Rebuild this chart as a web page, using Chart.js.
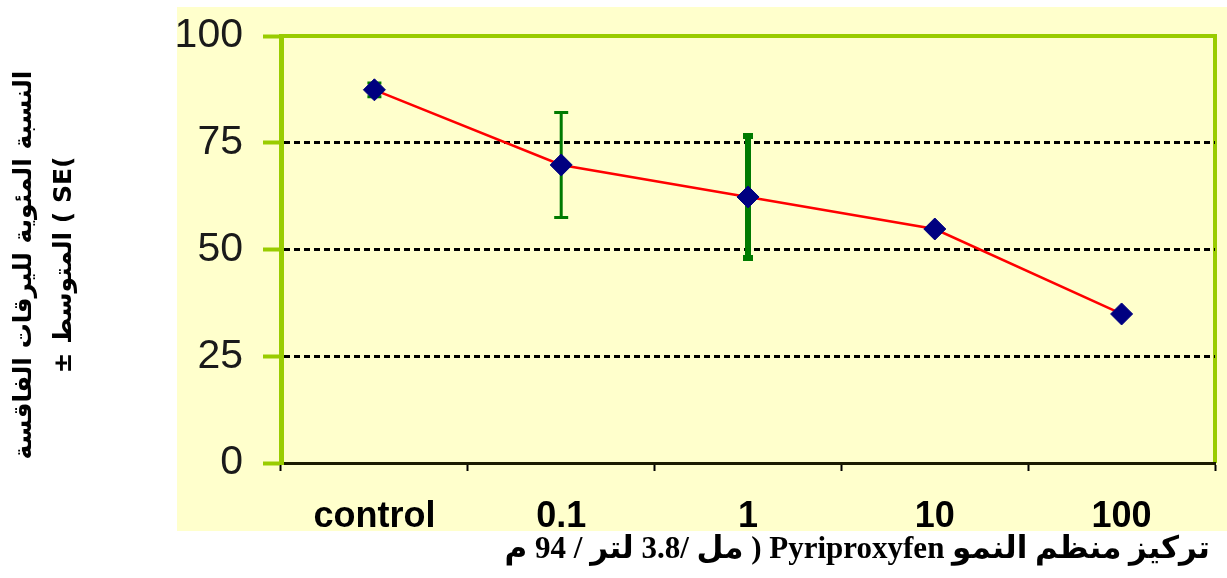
<!DOCTYPE html>
<html>
<head>
<meta charset="utf-8">
<script src="https://cdn.jsdelivr.net/npm/chart.js@4/dist/chart.umd.min.js"></script>
<style>
  html, body { margin: 0; padding: 0; background: #fff; }
  #wrap { width: 1227px; height: 578px; }
</style>
</head>
<body>
<div id="wrap"><canvas id="hatchChart" width="1227" height="578"></canvas></div>
<script>
// data
const categories = ['control', '0.1', '1', '10', '100'];
const hatchMeans = [87.4, 69.8, 62.3, 54.8, 34.9];
const hatchSE = [1.6, 12.3, 14.3, 0, 0];
const seWidths = [3, 3, 6, 3, 3];
const yTicks = [0, 25, 50, 75, 100];

const yTitleLines = ['النسبة المئوية لليرقات الفاقسة', '± المتوسط ( SE('];
const xTitle = 'تركيز منظم النمو Pyriproxyfen ( مل /3.8 لتر / 94 م';

const lime = '#99CC00';

// pale yellow panel + green frame behind everything
const panelPlugin = {
    id: 'panel',
    beforeDraw(chart) {
        const {ctx, chartArea: a} = chart;
        ctx.save();
        ctx.fillStyle = '#FFFFCC';
        ctx.fillRect(177, 7, chart.width - 177, 524);
        ctx.strokeStyle = lime;
        ctx.lineWidth = 4;
        ctx.beginPath();
        ctx.moveTo(a.left, a.top);
        ctx.lineTo(a.right, a.top);
        ctx.lineTo(a.right, a.bottom);
        ctx.stroke();
        ctx.restore();
    }
};

// green error bars, drawn through the y scale
const errorBarPlugin = {
    id: 'errorBars',
    beforeDatasetsDraw(chart) {
        const {ctx, scales: {x, y}} = chart;
        ctx.save();
        ctx.strokeStyle = '#007A00';
        hatchMeans.forEach((m, i) => {
            const se = hatchSE[i];
            if (!se) return;
            const px = x.getPixelForValue(i);
            const top = y.getPixelForValue(m + se);
            const bot = y.getPixelForValue(m - se);
            const w = seWidths[i];
            const cap = w > 3 ? 5 : 7;
            ctx.lineWidth = w;
            ctx.beginPath();
            ctx.moveTo(px, top);
            ctx.lineTo(px, bot);
            ctx.moveTo(px - cap, top);
            ctx.lineTo(px + cap, top);
            ctx.moveTo(px - cap, bot);
            ctx.lineTo(px + cap, bot);
            ctx.stroke();
        });
        ctx.restore();
    }
};

// axis titles (Arabic)
const titlePlugin = {
    id: 'axisTitles',
    afterDraw(chart) {
        const {ctx} = chart;
        ctx.save();
        ctx.fillStyle = '#000';
        ctx.textBaseline = 'middle';
        ctx.textAlign = 'center';
        ctx.font = "bold 25px 'DejaVu Sans'";
        ctx.translate(0, 265);
        ctx.rotate(-Math.PI / 2);
        ctx.fillText(yTitleLines[0], 0, 24);
        ctx.fillText(yTitleLines[1], 0, 64);
        ctx.restore();

        ctx.save();
        ctx.fillStyle = '#000';
        ctx.direction = 'rtl';
        ctx.textAlign = 'right';
        ctx.textBaseline = 'middle';
        ctx.font = "bold 31px 'Liberation Serif', 'DejaVu Sans'";
        ctx.fillText(xTitle, 1210, 550);
        ctx.restore();
    }
};

const hatchCtx = document.getElementById('hatchChart').getContext('2d');
new Chart(hatchCtx, {
    type: 'line',
    data: {
        labels: categories,
        datasets: [{
            label: 'Hatch %',
            data: hatchMeans,
            borderColor: '#FF0000',
            borderWidth: 2.5,
            pointStyle: 'rectRot',
            pointRadius: 11,
            pointBackgroundColor: '#000080',
            pointBorderColor: '#000080',
            pointBorderWidth: 1,
            tension: 0,
            fill: false
        }]
    },
    options: {
        responsive: false,
        animation: false,
        devicePixelRatio: 1,
        layout: { padding: { top: 36, right: 11, left: 0, bottom: 0 } },
        plugins: {
            legend: { display: false },
            tooltip: { enabled: false }
        },
        scales: {
            x: {
                offset: true,
                afterFit: (s) => { s.height = 115; s.paddingLeft = 0; s.paddingRight = 0; },
                grid: {
                    offset: true,
                    drawOnChartArea: false,
                    tickLength: 8,
                    tickWidth: 2,
                    tickColor: '#000'
                },
                border: { color: '#1a1a00', width: 3 },
                ticks: {
                    color: '#000',
                    padding: 24,
                    font: { family: 'Liberation Sans', size: 36, weight: 'bold' }
                }
            },
            y: {
                min: 0,
                max: 100,
                afterFit: (s) => { s.width = 281; s.paddingTop = 0; s.paddingBottom = 0; },
                afterBuildTicks: (s) => { s.ticks = yTicks.map(v => ({ value: v })); },
                grid: {
                    color: (c) => (c.tick && c.tick.value > 0 && c.tick.value < 100) ? '#000' : 'rgba(0,0,0,0)',
                    lineWidth: 3,
                    tickLength: 18,
                    tickWidth: 4,
                    tickColor: lime
                },
                border: { color: lime, width: 5, dash: [6, 4] },
                ticks: {
                    color: '#1a1a1a',
                    padding: 20,
                    font: { family: 'Liberation Sans', size: 41 }
                }
            }
        }
    },
    plugins: [panelPlugin, errorBarPlugin, titlePlugin]
});
</script>
</body>
</html>
